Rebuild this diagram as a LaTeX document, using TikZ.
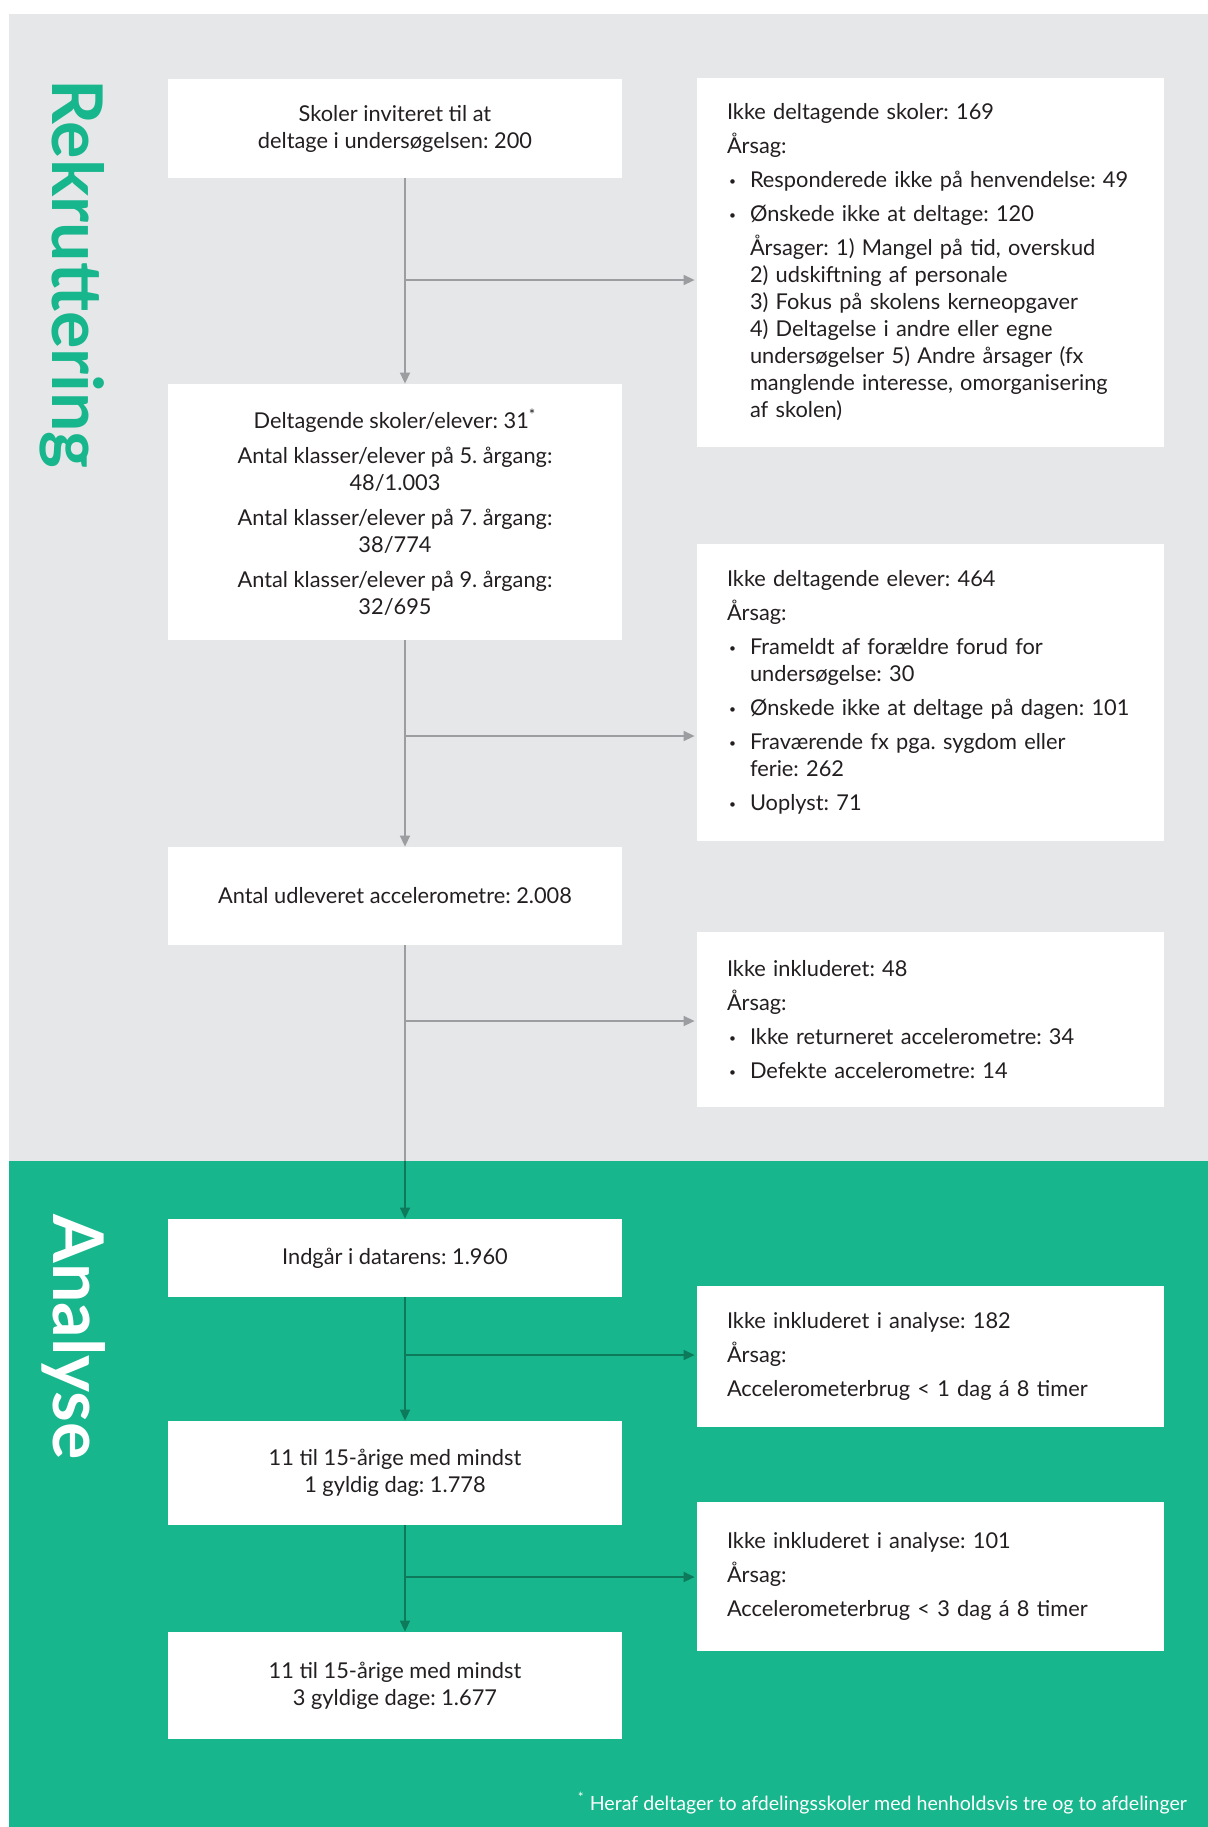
\documentclass[tikz,border=0pt]{standalone}
\usepackage{fontspec}
\setmainfont{Lato}
\usepackage{xcolor}
\usetikzlibrary{arrows.meta, positioning}

\definecolor{panelgrey}{HTML}{E6E7E8}
\definecolor{panelgreen}{HTML}{17B68C}
\definecolor{linegrey}{HTML}{9B9DA0}
\definecolor{linegreen}{HTML}{0D7A5C}
\definecolor{bodytext}{HTML}{231F20}

\frenchspacing
\newcommand{\bodyfont}{\fontsize{10.9}{13.5}\selectfont}
\newcommand{\bul}{\makebox[11.5pt][l]{\hspace{1pt}\raisebox{0.2ex}{\fontsize{6}{6}\selectfont •}}}
\newcommand{\ind}{\hspace*{11.5pt}}

\begin{document}
\begin{tikzpicture}[x=0.5pt, y=-0.5pt,
    lbox/.style={fill=white, minimum width=227pt, inner sep=0pt, align=center, font=\bodyfont, text=bodytext},
    rbox/.style={fill=white, minimum width=233.5pt, text width=203.5pt, inner xsep=15pt, inner ysep=0pt, align=left, font=\bodyfont, text=bodytext},
    greyline/.style={draw=linegrey, line width=0.75pt},
    greyarrow/.style={greyline, -{Triangle[length=5.5pt, width=5pt]}},
    greenline/.style={draw=linegreen, line width=0.75pt},
    greenarrow/.style={greenline, -{Triangle[length=5.5pt, width=5pt]}},
    phase/.style={font=\fontsize{35}{35}\selectfont\bfseries, rotate=-90}
  ]
  \useasboundingbox (0,0) rectangle (1208,1827);

  % Background panels
  \fill[panelgrey] (9,14) rectangle (1208,1161);
  \fill[panelgreen] (9,1161) rectangle (1208,1827);

  % Phase labels
  \node[phase, text=panelgreen] (rekrut) at (72,274) {Rekruttering};
  \node[phase, text=white] (analyse) at (74,1337) {Analyse};

  % Main flow
  \node[lbox, minimum height=49.5pt] (invited) at (395,128.5)
    {Skoler inviteret til at\\deltage i undersøgelsen: 200};
  \node[lbox, minimum height=128pt] (particip) at (395,512)
    {Deltagende skoler/elever: 31\textsuperscript{*}\\[4pt]
     Antal klasser/elever på 5. årgang:\\48/1.003\\[4pt]
     Antal klasser/elever på 7. årgang:\\38/774\\[4pt]
     Antal klasser/elever på 9. årgang:\\32/695};
  \node[lbox, minimum height=49pt] (handed) at (395,896)
    {Antal udleveret accelerometre: 2.008};
  \node[lbox, minimum height=39pt] (cleaning) at (395,1258)
    {Indgår i datarens: 1.960};
  \node[lbox, minimum height=52pt] (oneday) at (395,1473)
    {11 til 15-årige med mindst\\1 gyldig dag: 1.778};
  \node[lbox, minimum height=53.5pt] (threedays) at (395,1685.5)
    {11 til 15-årige med mindst\\3 gyldige dage: 1.677};

  % Exclusions
  \node[rbox, minimum height=184.5pt] (noschool) at (930.5,262.5)
    {Ikke deltagende skoler: 169\\[3.5pt]
     Årsag:\\[3.5pt]
     \bul Responderede ikke på henvendelse: 49\\[3.5pt]
     \bul Ønskede ikke at deltage: 120\\[3.5pt]
     \ind Årsager: 1) Mangel på tid, overskud\\
     \ind 2) udskiftning af personale\\
     \ind 3) Fokus på skolens kerneopgaver\\
     \ind 4) Deltagelse i andre eller egne\\
     \ind undersøgelser 5) Andre årsager (fx\\
     \ind manglende interesse, omorganisering\\
     \ind af skolen)};
  \node[rbox, minimum height=148.5pt] (nopupil) at (930.5,692.5)
    {Ikke deltagende elever: 464\\[3.5pt]
     Årsag:\\[3.5pt]
     \bul Frameldt af forældre forud for\\
     \ind undersøgelse: 30\\[3.5pt]
     \bul Ønskede ikke at deltage på dagen: 101\\[3.5pt]
     \bul Fraværende fx pga. sygdom eller\\
     \ind ferie: 262\\[3.5pt]
     \bul Uoplyst: 71};
  \node[rbox, minimum height=87.5pt] (notincl) at (930.5,1019.5)
    {Ikke inkluderet: 48\\[3.5pt]
     Årsag:\\[3.5pt]
     \bul Ikke returneret accelerometre: 34\\[3.5pt]
     \bul Defekte accelerometre: 14};
  \node[rbox, minimum height=70.5pt] (excl1) at (930.5,1356.5)
    {Ikke inkluderet i analyse: 182\\[3.5pt]
     Årsag:\\[3.5pt]
     Accelerometerbrug < 1 dag á 8 timer};
  \node[rbox, minimum height=74.5pt] (excl3) at (930.5,1576.5)
    {Ikke inkluderet i analyse: 101\\[3.5pt]
     Årsag:\\[3.5pt]
     Accelerometerbrug < 3 dag á 8 timer};

  % Footnote
  \node[anchor=east, text=white, font=\fontsize{9.8}{11}\selectfont] (note) at (1194,1803)
    {\textsuperscript{*} Heraf deltager to afdelingsskoler med henholdsvis tre og to afdelinger};

  % Spine and branch points
  \coordinate (spine) at (405,0);
  \coordinate (split) at (405,1161);
  \coordinate (br1) at (405,280);
  \coordinate (br2) at (405,736);
  \coordinate (br3) at (405,1021);
  \coordinate (br4) at (405,1355);
  \coordinate (br5) at (405,1577);

  % Connections
  \draw[greyarrow] (invited.south -| spine) -- (particip.north -| spine);
  \draw[greyarrow] (particip.south -| spine) -- (handed.north -| spine);
  \draw[greyline] (handed.south -| spine) -- (split);
  \draw[greenarrow] (split) -- (cleaning.north -| spine);
  \draw[greenarrow] (cleaning.south -| spine) -- (oneday.north -| spine);
  \draw[greenarrow] (oneday.south -| spine) -- (threedays.north -| spine);

  \draw[greyarrow, shorten >=1pt] (br1) -- (br1 -| noschool.west);
  \draw[greyarrow, shorten >=1pt] (br2) -- (br2 -| nopupil.west);
  \draw[greyarrow, shorten >=1pt] (br3) -- (br3 -| notincl.west);
  \draw[greenarrow, shorten >=1pt] (br4) -- (br4 -| excl1.west);
  \draw[greenarrow, shorten >=1pt] (br5) -- (br5 -| excl3.west);
\end{tikzpicture}
\end{document}
